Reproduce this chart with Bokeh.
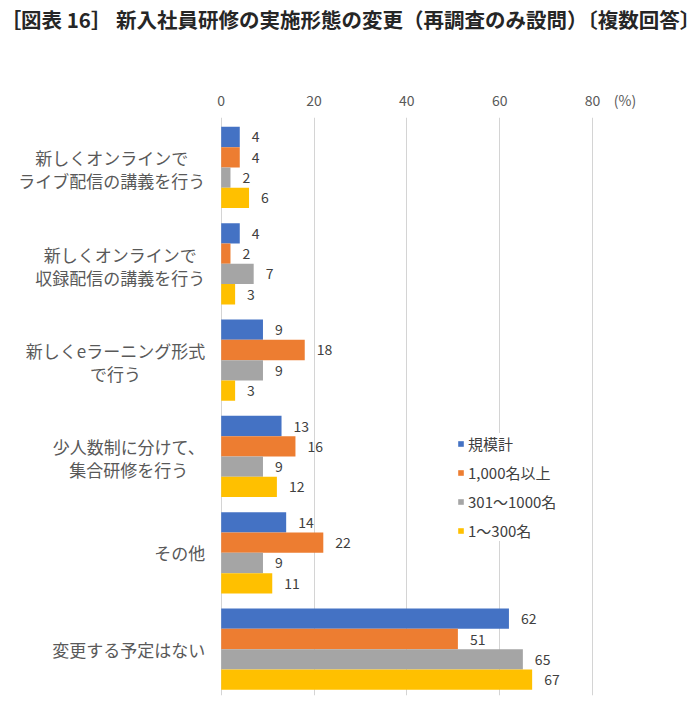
from bokeh.plotting import figure
from bokeh.models import ColumnDataSource, FixedTicker, Range1d, Legend, LegendItem
from bokeh.core.properties import value
from bokeh.embed import file_html
from bokeh.resources import INLINE

# ---------------- data ----------------
title_text = "［図表 16］ 新入社員研修の実施形態の変更（再調査のみ設問）〔複数回答〕"
categories = [
    "新しくオンラインで\nライブ配信の講義を行う",
    "新しくオンラインで\n収録配信の講義を行う",
    "新しくeラーニング形式\nで行う",
    "少人数制に分けて、\n集合研修を行う",
    "その他",
    "変更する予定はない",
]
series_names = ["規模計", "1,000名以上", "301～1000名", "1～300名"]
total_vals = [4, 4, 9, 13, 14, 62]
over1000_vals = [4, 2, 18, 16, 22, 51]
mid_vals = [2, 7, 9, 9, 9, 65]
small_vals = [6, 3, 3, 12, 11, 67]
x_ticks = [0, 20, 40, 60, 80]
unit_tick = 87
unit_label = "(%)"
colors = ["#4472C4", "#ED7D31", "#A5A5A5", "#FFC000"]

series_vals = [total_vals, over1000_vals, mid_vals, small_vals]

# ---------------- layout constants ----------------
W, H = 700, 705
PX_X = 4.641          # pixels per % unit
ZERO_X = 220.7        # screen x of 0 inside the figure
x_start = -ZERO_X / PX_X
x_end = x_start + W / PX_X

BAR_PX = 20.27        # bar thickness in px
G = 4.744             # group pitch in bar units
n_cat = len(categories)
n_ser = len(series_names)
y_top = 0.5 + 9.3 / BAR_PX
y_bot = -((n_cat - 1) * G + (n_ser - 1)) - 0.5 - 5.7 / BAR_PX

FONT = "Noto Sans CJK JP"
CAT_FS = 17

p = figure(width=W, height=H, output_backend="svg", toolbar_location=None,
           x_range=Range1d(x_start, x_end), y_range=Range1d(y_bot, y_top),
           x_axis_location="above", y_axis_location=None,
           min_border_left=0, min_border_right=0, min_border_top=0, min_border_bottom=10)
p.title = None
p.outline_line_color = None
p.background_fill_color = "white"
p.border_fill_color = "white"

# top axis (its label carries the chart title)
ax = p.xaxis[0]
ax.ticker = FixedTicker(ticks=x_ticks + [unit_tick])
ax.major_label_overrides = {unit_tick: unit_label}
ax.axis_line_color = None
ax.major_tick_line_color = None
ax.minor_tick_line_color = None
ax.major_tick_out = 0
ax.major_tick_in = 0
ax.major_label_standoff = 8
ax.major_label_text_font = FONT
ax.major_label_text_font_size = "14px"
ax.major_label_text_color = "#595959"
ax.axis_label = title_text
ax.axis_label_standoff = 53
ax.axis_label_text_font = FONT
ax.axis_label_text_font_size = "20.5px"
ax.axis_label_text_font_style = "bold"
ax.axis_label_text_color = "#262626"

p.xgrid.ticker = FixedTicker(ticks=x_ticks)
p.xgrid.grid_line_color = "#d4d4d4"
p.ygrid.visible = False

# bars
renderers = []
lab_x, lab_y, lab_t = [], [], []
for j, (name, vals, col) in enumerate(zip(series_names, series_vals, colors)):
    ys = [-(i * G + j) for i in range(n_cat)]
    src = ColumnDataSource(dict(y=ys, right=vals))
    r = p.hbar(y="y", left=0, right="right", height=1.0, source=src,
               fill_color=col, line_color=None)
    renderers.append(r)
    lab_x += vals
    lab_y += ys
    lab_t += [str(v) for v in vals]

lab_src = ColumnDataSource(dict(x=lab_x, y=lab_y, text=lab_t))
p.text(x="x", y="y", text="text", source=lab_src, x_offset=12,
       text_align="left", text_baseline="middle",
       text_font=value(FONT), text_font_size="14px", text_color="#404040")

# category labels (inside the frame, left of the zero line)
def text_width(line):
    return sum(1.0 if ord(c) > 0x2E80 else 0.55 for c in line) * CAT_FS

cx, cy, ct, calign, coff, yoff = [], [], [], [], [], []
for i, c in enumerate(categories):
    lines = c.split("\n")
    cx.append(0)
    cy.append(-(i * G + (n_ser - 1) / 2))
    ct.append(c)
    if len(lines) > 1:
        w = max(text_width(l) for l in lines)
        calign.append("center")
        coff.append(-16 - w / 2)
        yoff.append(2)
    else:
        calign.append("right")
        coff.append(-16)
        yoff.append(0)
cat_src = ColumnDataSource(dict(x=cx, y=cy, text=ct, align=calign, off=coff, yoff=yoff))
p.text(x="x", y="y", text="text", source=cat_src, x_offset="off", y_offset="yoff",
       text_align="align", text_baseline="middle", text_line_height=0.92,
       text_font=value(FONT), text_font_size=f"{CAT_FS}px", text_color="#595959")

# legend
legend = Legend(items=[LegendItem(label=n, renderers=[r]) for n, r in zip(series_names, renderers)],
                location=(457, 154))
legend.padding = 4
legend.margin = 0
legend.spacing = 8
legend.label_height = 20
legend.glyph_width = 7
legend.glyph_height = 7
legend.label_standoff = 4
legend.label_text_font = FONT
legend.label_text_font_size = "15px"
legend.label_text_color = "#404040"
legend.border_line_color = None
legend.background_fill_color = "white"
legend.background_fill_alpha = 1.0
p.add_layout(legend)

open("out.html", "w").write(file_html(p, INLINE))
